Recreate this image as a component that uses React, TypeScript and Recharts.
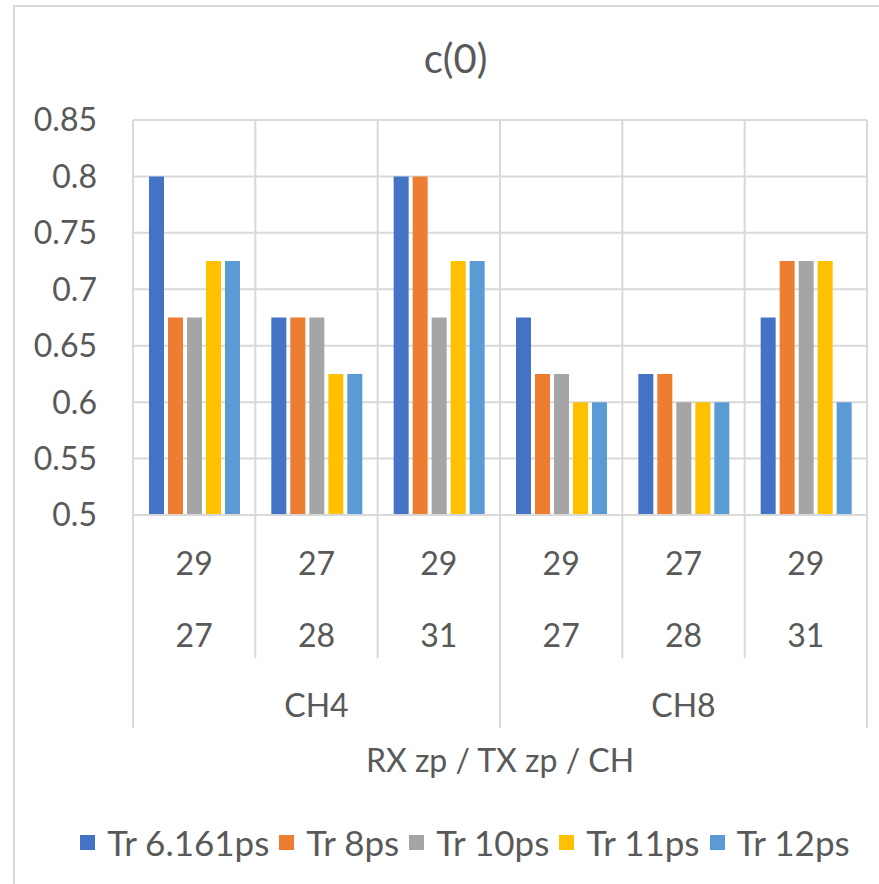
import React from "react";
import {
  BarChart,
  Bar,
  XAxis,
  YAxis,
  CartesianGrid,
  Legend,
} from "recharts";

// category levels (RX zp / TX zp / CH)
const rxZp = ["29", "27", "29", "29", "27", "29"];
const txZp = ["27", "28", "31", "27", "28", "31"];
const channels = ["CH4", "CH4", "CH4", "CH8", "CH8", "CH8"];

const seriesNames = ["Tr 6.161ps", "Tr 8ps", "Tr 10ps", "Tr 11ps", "Tr 12ps"];
const tr6161 = [0.8, 0.675, 0.8, 0.675, 0.625, 0.675];
const tr8 = [0.675, 0.675, 0.8, 0.625, 0.625, 0.725];
const tr10 = [0.675, 0.675, 0.675, 0.625, 0.6, 0.725];
const tr11 = [0.725, 0.625, 0.725, 0.6, 0.6, 0.725];
const tr12 = [0.725, 0.625, 0.725, 0.6, 0.6, 0.6];

const yTicks = [0.5, 0.55, 0.6, 0.65, 0.7, 0.75, 0.8, 0.85];
const yLabels = ["0.5", "0.55", "0.6", "0.65", "0.7", "0.75", "0.8", "0.85"];

const colors = ["#4472C4", "#ED7D31", "#A5A5A5", "#FFC000", "#5B9BD5"];
const seriesValues = [tr6161, tr8, tr10, tr11, tr12];

const data = rxZp.map((rx, i) => {
  const row: Record<string, string | number> = {
    key: String(i),
    rx,
    tx: txZp[i],
    ch: channels[i],
  };
  seriesNames.forEach((name, s) => {
    row[name] = seriesValues[s][i];
  });
  return row;
});

const W = 879;
const H = 884;
const FONT = "Lato, 'Liberation Sans', sans-serif";
const TEXT = "#595959";
const GRID = "#D9D9D9";
const plotLeft = 133;
const plotRight = 12;
const bandWidth = (W - plotLeft - plotRight) / rxZp.length;

function CategoryTick(props: any) {
  const { x, y, index } = props;
  const i = index as number;
  const left = x - bandWidth / 2;
  const right = x + bandWidth / 2;
  const groupStart = i === 0 || channels[i] !== channels[i - 1];
  const last = i === rxZp.length - 1;
  // group label sits in the middle of its run of categories
  const members = channels
    .map((c, k) => (c === channels[i] ? k : -1))
    .filter((k) => k >= 0);
  const mid = members[Math.floor(members.length / 2)] === i;
  return (
    <g>
      <line
        x1={left}
        x2={left}
        y1={y}
        y2={y + (groupStart ? 213 : 143)}
        stroke={GRID}
        strokeWidth={2}
      />
      {last && (
        <line x1={right} x2={right} y1={y} y2={y + 213} stroke={GRID} strokeWidth={2} />
      )}
      <text x={x} y={y + 48} textAnchor="middle" dy="0.36em" fill={TEXT} fontSize={32} fontFamily={FONT}>
        {rxZp[i]}
      </text>
      <text x={x} y={y + 120} textAnchor="middle" dy="0.36em" fill={TEXT} fontSize={32} fontFamily={FONT}>
        {txZp[i]}
      </text>
      {mid && (
        <text
          x={members.length % 2 === 0 ? left : x}
          y={y + 190}
          textAnchor="middle"
          dy="0.36em"
          fill={TEXT}
          fontSize={32}
          fontFamily={FONT}
        >
          {channels[i]}
        </text>
      )}
    </g>
  );
}

function LegendContent(props: any) {
  const items = [...(props.payload ?? [])].sort(
    (a: any, b: any) => seriesNames.indexOf(a.value) - seriesNames.indexOf(b.value)
  );
  return (
    <div
      style={{
        display: "flex",
        justifyContent: "center",
        alignItems: "center",
        height: 40,
        fontFamily: FONT,
      }}
    >
      {items.map((it: any, k: number) => (
        <div
          key={it.value}
          style={{
            display: "flex",
            alignItems: "center",
            marginLeft: k === 0 ? 0 : 10,
          }}
        >
          <span
            style={{
              display: "inline-block",
              width: 15,
              height: 15,
              background: it.color,
              marginRight: 12,
            }}
          />
          <span style={{ color: TEXT, fontSize: 35, lineHeight: "40px" }}>{it.value}</span>
        </div>
      ))}
    </div>
  );
}

export default function App() {
  return (
    <div
      style={{
        position: "absolute",
        left: 0,
        top: 0,
        width: W,
        height: H,
        overflow: "hidden",
        background: "#fff",
        fontFamily: FONT,
      }}
    >
      <div
        style={{
          position: "absolute",
          left: 13,
          top: 5,
          width: 900,
          height: 900,
          border: `2px solid ${GRID}`,
        }}
      />
      <div
        style={{
          position: "absolute",
          left: 16,
          top: 34,
          width: W,
          textAlign: "center",
          fontSize: 40,
          color: TEXT,
          lineHeight: "48px",
        }}
      >
        c(0)
      </div>
      <BarChart
        width={W}
        height={H}
        data={data}
        margin={{ top: 120, right: plotRight, left: 23, bottom: 22 }}
        barSize={15}
        barGap={4}
        style={{ position: "absolute", left: 0, top: 0 }}
      >
        <CartesianGrid
          stroke={GRID}
          strokeWidth={2}
          verticalCoordinatesGenerator={({ offset }: any) =>
            rxZp.map((_, k) => offset.left + (k * offset.width) / rxZp.length).concat(offset.left + offset.width)
          }
        />
        <XAxis
          dataKey="key"
          height={307}
          tickSize={0}
          tickMargin={0}
          axisLine={{ stroke: GRID, strokeWidth: 2 }}
          tick={<CategoryTick />}
          interval={0}
          label={(p: any) => {
            const vb = p.viewBox;
            return (
              <text
                x={vb.x + vb.width / 2}
                y={vb.y + 245}
                textAnchor="middle"
                dy="0.36em"
                fill={TEXT}
                fontSize={32}
                fontFamily={FONT}
              >
                RX zp / TX zp / CH
              </text>
            );
          }}
        />
        <YAxis
          width={110}
          domain={[0.5, 0.85]}
          ticks={yTicks}
          interval={0}
          axisLine={false}
          tickLine={false}
          tickSize={0}
          tickMargin={36}
          tickFormatter={(v: number) => yLabels[yTicks.indexOf(v)] ?? String(v)}
          tick={{ fill: TEXT, fontSize: 32, fontFamily: FONT }}
          allowDataOverflow
        />
        <Legend
          verticalAlign="bottom"
          align="center"
          content={<LegendContent />}
          wrapperStyle={{ height: 40, left: 70, width: 790 }}
        />
        {seriesNames.map((name, s) => (
          <Bar key={name} dataKey={name} fill={colors[s]} isAnimationActive={false} />
        ))}
      </BarChart>
    </div>
  );
}
